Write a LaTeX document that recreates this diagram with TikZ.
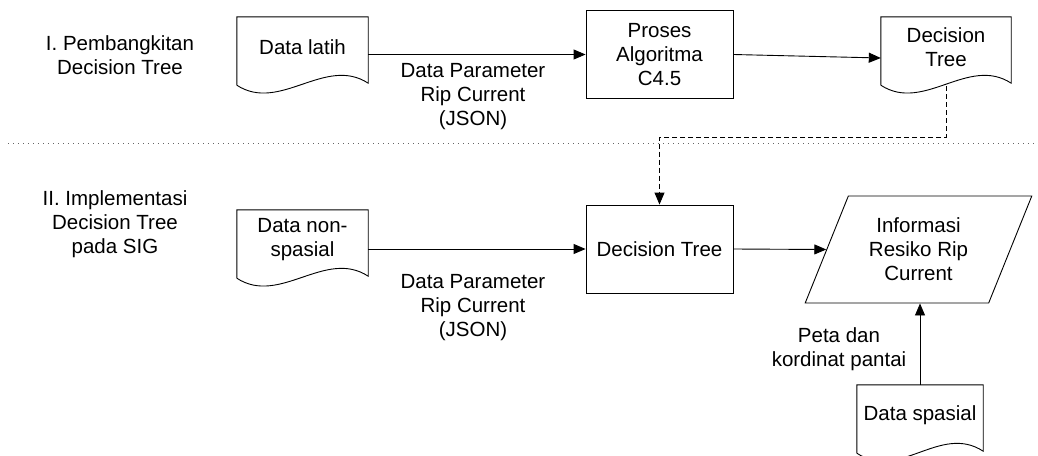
\documentclass[tikz,border=0pt]{standalone}
\usepackage{fontspec}
\setmainfont{Liberation Sans}
\usetikzlibrary{shapes.geometric,arrows.meta}

% outline of a document symbol round a node: flat top, wavy bottom
\newcommand{\docline}[1]{%
  \draw[line width=0.9pt] ([yshift=-8pt]#1.south west) -- (#1.north west) -- (#1.north east)
    -- ([yshift=-6pt]#1.south east) .. controls +(-43,-28) and +(43,28) .. ([yshift=-8pt]#1.south west);}

\begin{document}
\begin{tikzpicture}[x=1pt,y=-1pt,
  every node/.style={font=\fontsize{20.5}{24}\selectfont,align=center},
  proc/.style={shape=rectangle,draw=black,line width=0.9pt,minimum width=147pt,minimum height=88pt},
  doc/.style={shape=rectangle,inner sep=0pt,minimum height=60pt},
  io/.style={trapezium,trapezium left angle=65,trapezium right angle=115,trapezium stretches=true,
    draw=black,line width=0.9pt,minimum width=227pt,minimum height=107pt},
  flow/.style={-{Triangle[length=12pt,width=10pt]},line width=0.9pt},
  back/.style={flow,dash pattern=on 5pt off 3pt},
  sep/.style={black!60,line width=0.9pt,dash pattern=on 1pt off 4pt}]
\useasboundingbox (0,0) rectangle (1038,455);

\node (sec1) at (120,55) {I. Pembangkitan\\Decision Tree};
\node (sec2) at (115,224) {II. Implementasi\\Decision Tree\\pada SIG};

\node[doc,minimum width=131pt] (latih) at (302.5,47) {Data latih};
\node[proc] (proses) at (659.5,54.5) {Proses\\Algoritma\\C4.5};
\node[doc,minimum width=130pt] (tree1) at (946,47) {Decision\\Tree};
\node (param1) at (473,97) {Data Parameter\\Rip Current\\(JSON)};

\node[doc,minimum width=131pt] (nonspasial) at (302.5,240) {Data non-\\spasial};
\node[proc] (tree2) at (659.5,249) {Decision Tree};
\node[io] (info) at (918.5,249.5) {Informasi\\Resiko Rip\\Current};
\node (param2) at (473,308) {Data Parameter\\Rip Current\\(JSON)};
\node[doc,minimum width=126pt] (spasial) at (920,415) {Data spasial};
\node (peta) at (839,349.5) {Peta dan\\kordinat pantai};

\docline{latih}
\docline{tree1}
\docline{nonspasial}
\docline{spasial}

\coordinate (sepL) at (8,143);
\coordinate (sepR) at (1035,143);
\draw [sep] (sepL) -- (sepR);

\draw [flow] (latih.east |- proses.west) -- (proses.west);
\draw [flow] (proses.east) -- ([yshift=-11pt]tree1.west);
\draw [back] ([yshift=-9pt]tree1.south) -- ++(0,51) -| (tree2.north);
\draw [flow] (nonspasial.east |- tree2.west) -- (tree2.west);
\draw [flow] (tree2.east) -- (info.west);
\draw [flow] (spasial.north) -- (spasial.north |- info.south);
\end{tikzpicture}
\end{document}
